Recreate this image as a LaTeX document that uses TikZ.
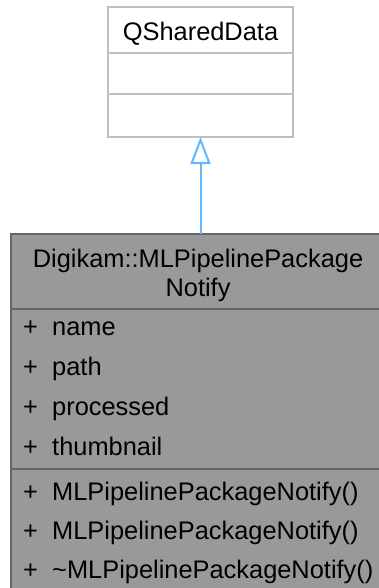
\documentclass[tikz,border=0pt]{standalone}
\usepackage{fontspec}
\setmainfont{Liberation Sans}
\usetikzlibrary{arrows.meta}
\definecolor{kasten}{HTML}{999999}
\definecolor{kastenr}{HTML}{666666}
\definecolor{basisr}{HTML}{BFBFBF}
\definecolor{pfeil}{HTML}{63B8FF}
\newcommand{\umlfont}{\fontsize{25.4}{30}\selectfont}

\begin{document}
\begin{tikzpicture}[x=1pt,y=-1pt,
  klasse/.style={rectangle,inner sep=0pt,outer sep=0pt,line width=2pt},
  eintrag/.style={anchor=base west,inner sep=0pt,font=\umlfont},
  titel/.style={anchor=base,inner sep=0pt,font=\umlfont}]
  \useasboundingbox (0,0) rectangle (379,588);
  \clip (0,0) rectangle (379,588);
  % Basisklasse
  \node[klasse,draw=basisr,fill=white,minimum width=185pt,minimum height=130pt] (qsd) at (200.5,72) {};
  \draw[basisr,line width=2pt] (108,53)--(293,53);
  \draw[basisr,line width=2pt] (108,94)--(293,94);
  \node[titel] (qsdname) at (200.5,41) {QSharedData};
  % abgeleitete Klasse
  \node[klasse,draw=kastenr,fill=kasten,minimum width=374pt,minimum height=386pt] (mlp) at (198,427) {};
  \draw[kastenr,line width=2pt] (11,309)--(385,309);
  \draw[kastenr,line width=2pt] (11,469)--(385,469);
  \node[titel] (mlpname) at (198,267) {Digikam::MLPipelinePackage};
  \node[titel] (mlpname2) at (198,296) {Notify};
  \node[eintrag] (pa) at (23,335) {+};
  \node[eintrag] (a1) at (52,335) {name};
  \node[eintrag] (pb) at (23,375) {+};
  \node[eintrag] (a2) at (52,375) {path};
  \node[eintrag] (pc) at (23,415) {+};
  \node[eintrag] (a3) at (52,415) {processed};
  \node[eintrag] (pd) at (23,455) {+};
  \node[eintrag] (a4) at (52,455) {thumbnail};
  \node[eintrag] (pe) at (23,500) {+};
  \node[eintrag] (m1) at (52,500) {MLPipelinePackageNotify()};
  \node[eintrag] (pf) at (23,539) {+};
  \node[eintrag] (m2) at (52,539) {MLPipelinePackageNotify()};
  \node[eintrag] (pg) at (23,578) {+};
  \node[eintrag] (m3) at (52,578) {\char"7E MLPipelinePackageNotify()};
  % Vererbung
  \draw[pfeil,line width=2pt,-{Triangle[open,length=27pt,width=20pt]}] (qsd.south |- mlp.north) -- (qsd.south);
\end{tikzpicture}
\end{document}
